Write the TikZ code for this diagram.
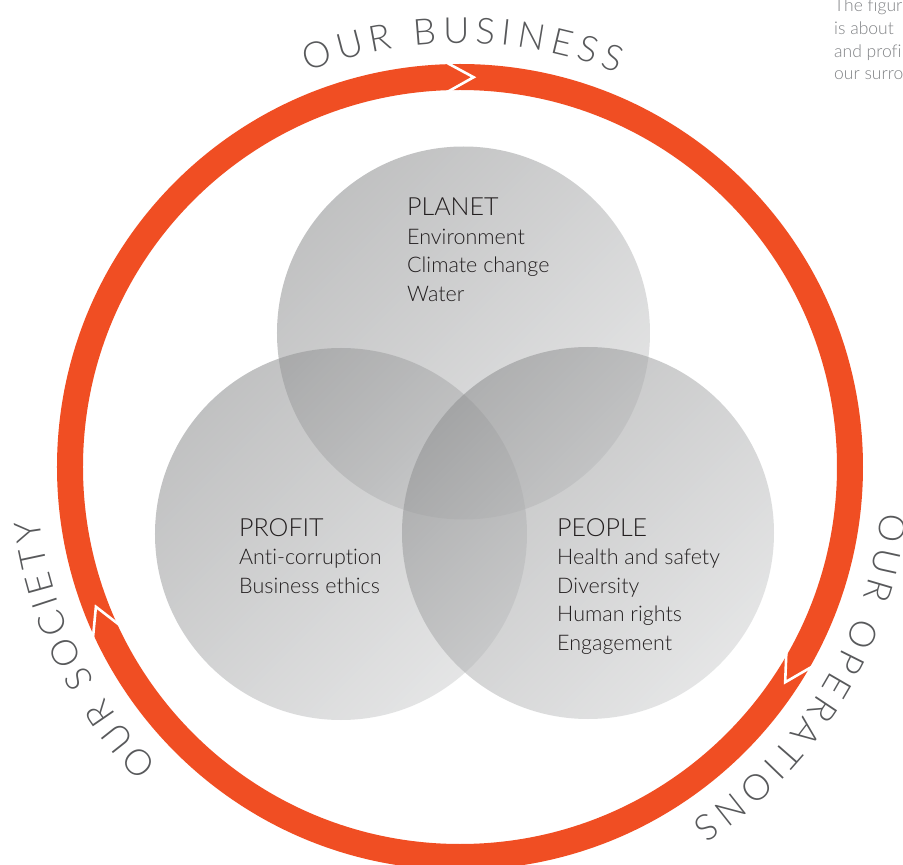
\documentclass[tikz,border=0pt]{standalone}
\usepackage{fontspec}
\setmainfont{Lato Light}[Ligatures=NoCommon]
\usetikzlibrary{decorations.text}
\definecolor{ringorange}{HTML}{F04E23}
\definecolor{labelgrey}{HTML}{58595B}
\definecolor{inkgrey}{HTML}{231F20}
\definecolor{notegrey}{HTML}{808285}
\definecolor{vennlight}{HTML}{CFD0D1}
\definecolor{venndark}{HTML}{8E8F90}
\tikzset{
  venn/.style   ={top color=venndark,bottom color=vennlight,
                  shading angle=45,fill opacity=0.55},
  ring/.style   ={draw=ringorange,line width=26pt},
  notch/.style  ={draw=white,line width=2.6pt,line join=miter},
  % multi-line nodes sit on the baseline of their last line
  pillar/.style ={text=inkgrey,anchor=base west,align=left,inner sep=0pt,
                  font=\fontsize{21.5}{28.5}\selectfont},
  arclabel/.style={decorate,decoration={text along path,
                  text={|\fontsize{36}{36}\selectfont|#1},
                  text color=labelgrey,text align={fit to path}}},
}
\newcommand{\pillarhead}[1]{{\fontsize{25}{28.5}\selectfont #1}}

\begin{document}
\begin{tikzpicture}[x=1pt,y=1pt]
\clip (-460,-398) rectangle (443,467);
\fill[white] (-460,-398) rectangle (443,467);
%======================= the three pillars =======================
\shade[venn] (3.5,134) circle[radius=186.5];
\shade[venn] (-119,-67) circle[radius=186];
\shade[venn] (128,-66) circle[radius=186];
\node[pillar] (planet) at (-53,165.5)
 {\pillarhead{PLANET}\\Environment\\Climate change\\Water};
\node[pillar] (profit) at (-221,-126)
 {\pillarhead{PROFIT}\\Anti-corruption\\Business ethics};
\node[pillar] (people) at (97,-183)
 {\pillarhead{PEOPLE}\\Health and safety\\Diversity\\Human rights\\Engagement};
%======================= outer ring ==============================
\draw[ring] (0,0) circle[radius=390];
\draw[notch] (92:405) -- (88:390) -- (92:375);
\draw[notch] (205:405) -- (201:390) -- (205:375);
\draw[notch] (-29.5:405) -- (-33.5:390) -- (-29.5:375);
% labels running clockwise round the ring
\path[arclabel={OUR BUSINESS}] (111.1:424) arc[start angle=111.1,end angle=68.2,radius=424];
\path[arclabel={OUR SOCIETY}] (224.6:424) arc[start angle=224.6,end angle=187.1,radius=424];
\path[arclabel={OUR OPERATIONS}] (-6.2:424) arc[start angle=-6.2,end angle=-56.8,radius=424];
%======================= side note ===============================
\node[anchor=base west,align=left,inner sep=0pt,text=notegrey,
      font=\fontsize{17.5}{22.7}\selectfont] (note) at (374,387)
 {The figur\\is about\\and profi\\our surro};
\end{tikzpicture}
\end{document}
